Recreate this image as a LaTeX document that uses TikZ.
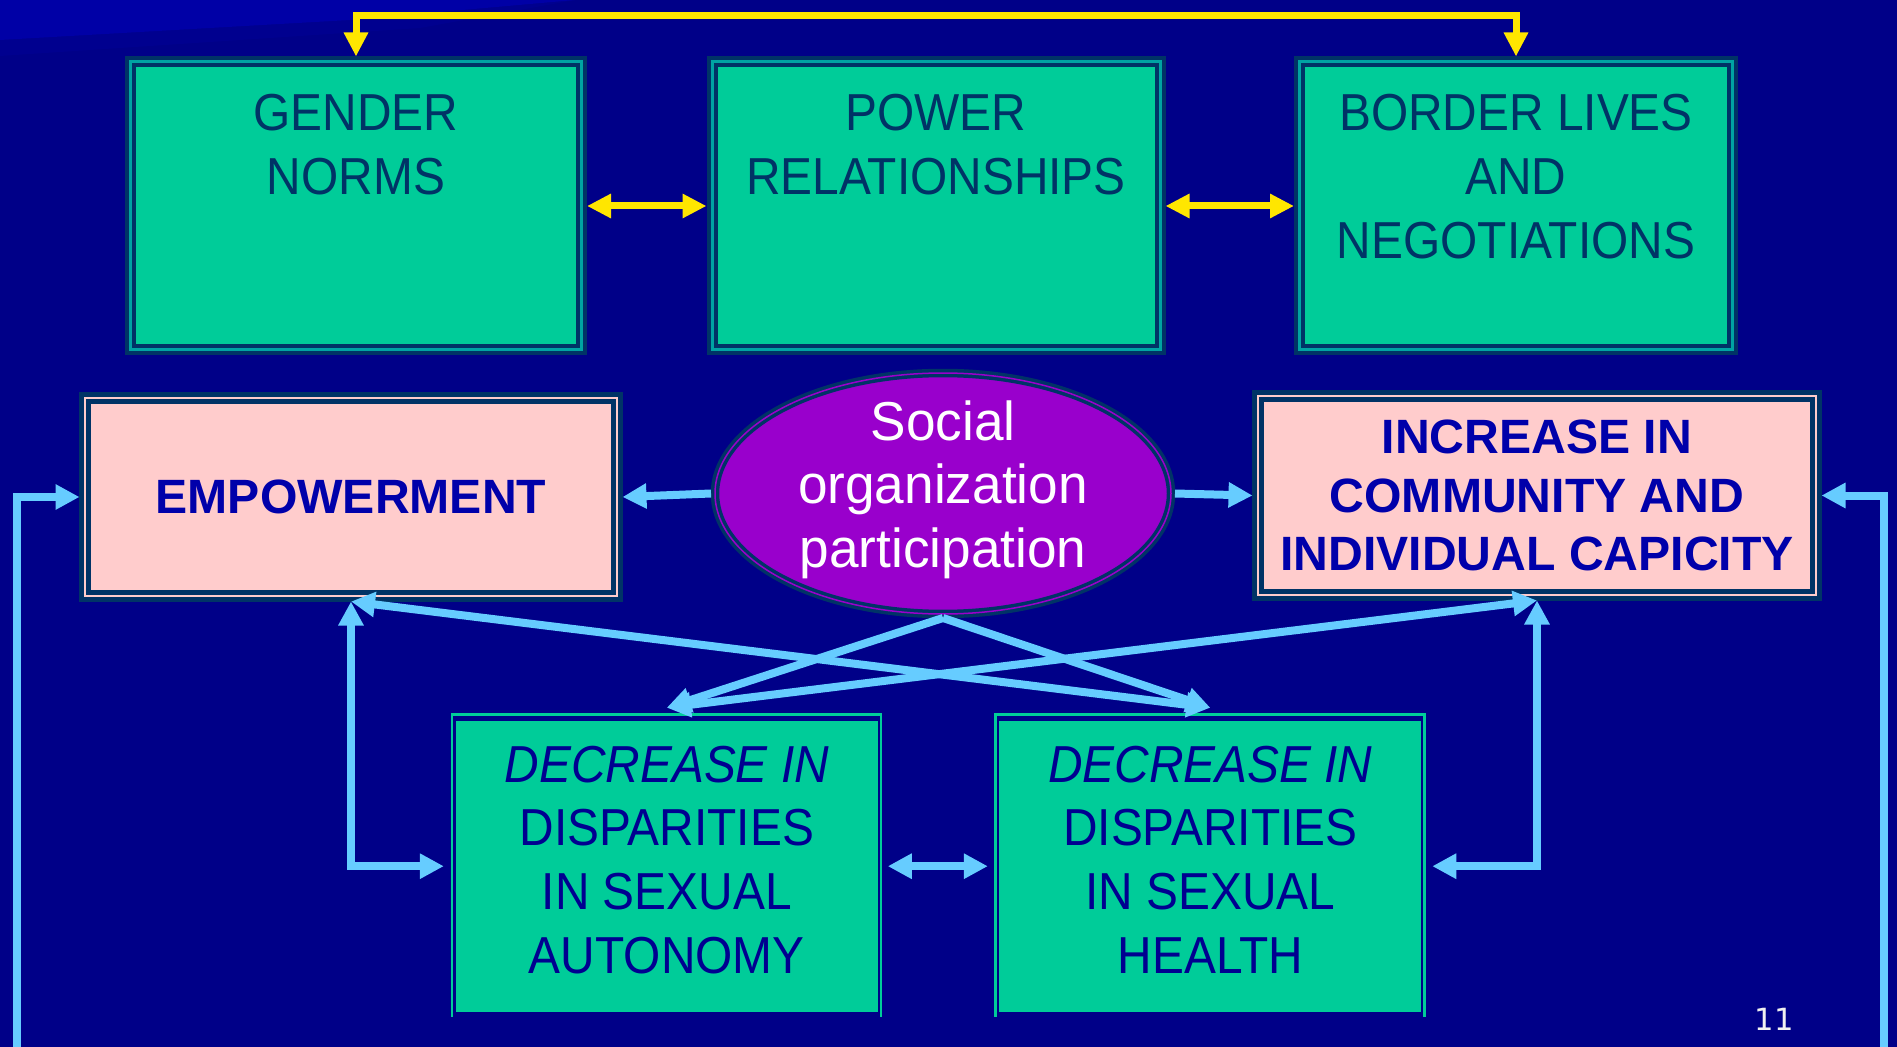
\documentclass[tikz,border=0pt]{standalone}
\usepackage{fontspec}
\setmainfont{Liberation Sans}
\newfontfamily\narrowsans{Liberation Sans}[FakeStretch=0.92]
\newfontfamily\ellsans{Liberation Sans}[FakeStretch=0.97]
\newfontfamily\numsans{DejaVu Sans}
\usetikzlibrary{arrows.meta,shapes.geometric}

\definecolor{slidebg}{HTML}{000088}
\definecolor{wedge}{HTML}{0000A6}
\definecolor{wedgefaint}{HTML}{00008F}
\definecolor{boxgreen}{HTML}{00CC99}
\definecolor{frame}{HTML}{003366}
\definecolor{frameline}{HTML}{00A3A3}
\definecolor{boxpink}{HTML}{FFCCCC}
\definecolor{ellpurple}{HTML}{9900CC}
\definecolor{arrowblue}{HTML}{66CCFF}
\definecolor{arrowyellow}{HTML}{FFE600}
\definecolor{boldblue}{HTML}{0000AA}
\definecolor{lowblue}{HTML}{000090}

\begin{document}
\begin{tikzpicture}[x=0.1mm, y=-0.1mm,
  topbox/.style={draw=frame, line width=0.4mm, double=frameline, double distance=0.3mm,
    fill=boxgreen, minimum height=28.8mm, outer sep=0.55mm, inner sep=0},
  toptext/.style={anchor=north, inner sep=0, align=center, text=frame,
    font=\narrowsans\fontsize{14.8}{18.3}\selectfont},
  pinkbox/.style={draw=frame, line width=0.45mm, double=boxpink, double distance=0.22mm,
    fill=boxpink, outer sep=0.55mm, inner sep=0, align=center, text=boldblue,
    font=\bfseries\fontsize{13.7}{16.6}\selectfont},
  ellbox/.style={ellipse, draw=frame, line width=0.35mm, double=ellpurple, double distance=0.15mm,
    fill=ellpurple, minimum width=45.6mm, minimum height=24.1mm, outer sep=0.4mm, inner sep=0},
  elltext/.style={anchor=center, inner sep=0, align=center, text=white, yshift=0.4mm,
    font=\ellsans\fontsize{15.6}{18.1}\selectfont},
  lowbox/.style={fill=boxgreen, minimum width=42.2mm, minimum height=29.1mm, inner sep=0, outer sep=0},
  lowtext/.style={anchor=north, inner sep=0, align=center, text=lowblue, yshift=-2.43mm,
    font=\narrowsans\fontsize{14.8}{18.2}\selectfont},
  lowline/.style={draw=boxgreen, line width=0.25mm},
  bluearrow/.style={draw=arrowblue, line width=0.8mm, >={Triangle[length=2.4mm, width=2.4mm]}},
  yelarrow/.style={draw=arrowyellow, line width=0.7mm, >={Triangle[length=2.4mm, width=2.3mm]}},
  pagenum/.style={text=white!88!gray, inner sep=0, font=\numsans\fontsize{8.7}{10}\selectfont}]

  % slide background
  \useasboundingbox (0,0) rectangle (1897,1047);
  \fill[slidebg] (0,0) rectangle (1897,1047);
  \fill[wedgefaint] (0,40) -- (0,56) -- (420,28) -- (575,0) -- (350,20) -- cycle;
  \fill[wedge] (0,0) -- (0,40) -- (350,20) -- (575,0) -- cycle;

  % top row
  \node[topbox, minimum width=45.1mm, label={[toptext, yshift=-3.65mm]north:GENDER\\NORMS}] (gen) at (356,206) {};
  \node[topbox, minimum width=44.8mm, label={[toptext, yshift=-3.65mm]north:POWER\\RELATIONSHIPS}] (pow) at (936,206) {};
  \node[topbox, minimum width=43.3mm, label={[toptext, yshift=-3.65mm]north:BORDER LIVES\\AND\\NEGOTIATIONS}] (bor) at (1516,206) {};

  % middle row
  \node[pinkbox, minimum width=53.2mm, minimum height=19.8mm] (emp) at (351,497) {EMPOWERMENT};
  \node[ellbox, label={[elltext]center:Social\\organization\\participation}] (ell) at (943,493.5) {};
  \node[pinkbox, minimum width=55.8mm, minimum height=19.9mm] (inc) at (1537,495.5) {INCREASE IN\\COMMUNITY AND\\INDIVIDUAL CAPICITY};

  % bottom row
  \node[lowbox, label={[lowtext]north:{\itshape DECREASE IN}\\DISPARITIES\\IN SEXUAL\\AUTONOMY}] (aut) at (666.8,866.2) {};
  \node[lowbox, label={[lowtext]north:{\itshape DECREASE IN}\\DISPARITIES\\IN SEXUAL\\HEALTH}] (hea) at (1210.3,866.2) {};
  \draw[lowline] ([shift={(-4,5)}]aut.south west) |- ([shift={(3,-6)}]aut.north east) -- ([shift={(3,5)}]aut.south east);
  \draw[lowline] ([shift={(-4,5)}]hea.south west) |- ([shift={(3,-6)}]hea.north east) -- ([shift={(3,5)}]hea.south east);

  \node[pagenum] (num) at (1774,1019) {11};

  % yellow links
  \coordinate (ytop) at (936,16);
  \draw[yelarrow, <->] (gen.north) |- (ytop) -| (bor.north);
  \draw[yelarrow, <->] (gen.east) -- (pow.west);
  \draw[yelarrow, <->] (pow.east) -- (bor.west);

  % blue links
  \draw[bluearrow, ->] (ell.west) -- (emp.east);
  \draw[bluearrow, ->] (ell.east) -- (inc.west);
  \draw[bluearrow, ->] (ell.south) -- ([yshift=1.3mm]aut.north);
  \draw[bluearrow, ->] (ell.south) -- ([yshift=1.3mm]hea.north);
  \draw[bluearrow, <->] ([yshift=1.3mm]aut.north) -- (inc.south);
  \draw[bluearrow, <->] ([yshift=1.3mm]hea.north) -- (emp.south);
  \draw[bluearrow, <->] (emp.south) |- ([xshift=-1.2mm]aut.west);
  \draw[bluearrow, <->] (inc.south) |- ([xshift=1.1mm]hea.east);
  \draw[bluearrow, <->, shorten <=1mm, shorten >=1.15mm] (aut.east) -- (hea.west);

  % feedback loop round the slide
  \coordinate (fbl) at (17,1050.8);
  \coordinate (fbr) at (1884,1050.8);
  \draw[bluearrow, <->] (emp.west) -| (fbl) -- (fbr) |- (inc.east);
\end{tikzpicture}
\end{document}
